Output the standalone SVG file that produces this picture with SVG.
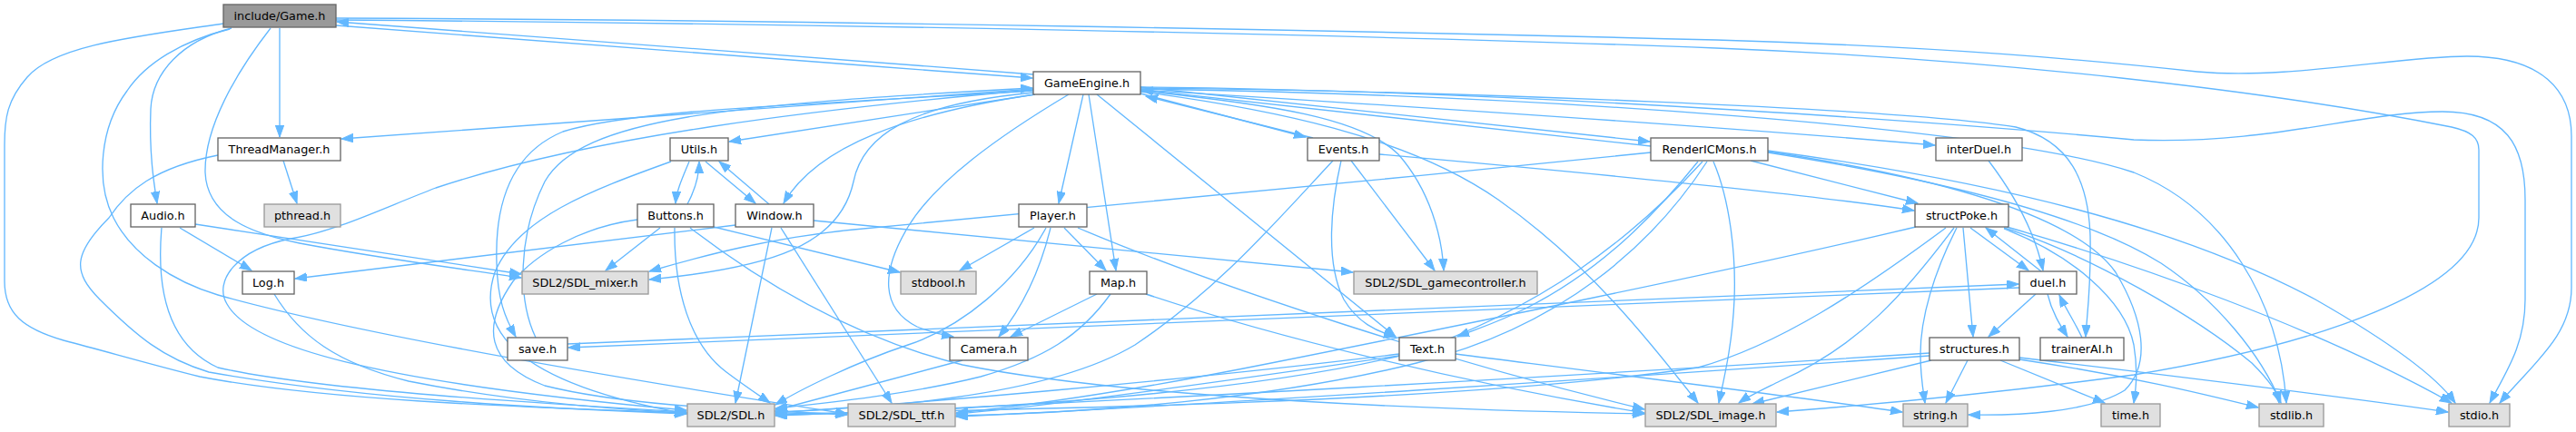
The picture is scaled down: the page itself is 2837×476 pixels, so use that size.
<svg xmlns="http://www.w3.org/2000/svg" width="2837" height="476" viewBox="0 0 2837 476">
<defs>
<style>
.e path{fill:none;stroke:#63b8ff;stroke-width:1.33;marker-end:url(#ah)}
.nd rect{fill:#ffffff;stroke:#666666;stroke-width:1.33}
.ex rect{fill:#e0e0e0;stroke:#999999;stroke-width:1.33}
.rt rect{fill:#999999;stroke:#666666;stroke-width:1.33}
text{font-family:"DejaVu Sans","Liberation Sans",sans-serif;font-size:12.8px;fill:#000000;text-anchor:middle}
</style>
<marker id="ah" markerWidth="14" markerHeight="10" refX="13" refY="4.7" orient="auto" markerUnits="userSpaceOnUse">
<path d="M0,0 L13,4.7 L0,9.4 z" fill="#63b8ff" stroke="#63b8ff" stroke-width="1"/>
</marker>
</defs>
<rect width="2837" height="476" fill="#ffffff"/>
<g id="connectors" class="e">
<path d="M370,28 C620,47 880,67 1137,86"/>
<path d="M1138,82 C880,62 620,42 371,24"/>
<path d="M308,31 L308,151"/>
<path d="M255,31 C200,45 168,80 166,120 C164,170 170,205 173,224"/>
<path d="M246,26 C150,40 60,50 30,85 C8,110 5,130 5,160 L5,310 C5,345 25,362 70,375 C120,388 160,400 220,415 C350,440 550,448 756,455"/>
<path d="M253,32 C200,45 160,70 140,100 C110,140 105,200 125,240 C145,280 190,310 240,325 C400,370 700,420 933,456"/>
<path d="M298,31 C260,80 225,140 226,190 C228,240 280,258 330,268 C420,285 500,295 574,306"/>
<path d="M370,20 C900,22 1500,34 1890,44 C2150,52 2300,66 2420,79 C2520,88 2640,62 2717,62 C2800,62 2832,100 2832,150 L2832,317 C2832,370 2790,400 2753,444"/>
<path d="M370,22 C900,26 1500,38 1890,53 C2200,65 2500,100 2700,140 C2722,145 2730,152 2730,165 L2730,240 C2730,320 2550,380 2350,413 C2200,433 2050,447 1957,454"/>
<path d="M1138,98 L376,153"/>
<path d="M1140,104 L803,156"/>
<path d="M1140,104 C1000,125 900,160 863,224"/>
<path d="M1138,100 C900,115 700,120 620,145 C560,170 545,230 547,290 C548,330 556,350 568,371"/>
<path d="M590,372 C570,330 570,260 600,200 C640,130 800,115 1137,97"/>
<path d="M1138,102 C1000,115 950,150 940,200 C925,270 850,295 715,308"/>
<path d="M1138,99 C900,120 650,150 480,207 C420,230 370,255 320,263 C260,275 235,310 250,335 C275,380 400,420 756,452"/>
<path d="M739,178 C650,210 570,240 545,300 C525,360 560,420 756,456"/>
<path d="M1193,104 L1166,224"/>
<path d="M1199,104 L1229,298"/>
<path d="M1177,104 C1100,150 1030,200 1000,250 C970,300 970,340 1010,360 C1025,366 1038,369 1050,371"/>
<path d="M1208,104 L1537,371"/>
<path d="M1256,103 L1438,151"/>
<path d="M1446,152 L1262,106"/>
<path d="M1256,96 L1817,156"/>
<path d="M1818,161 L1257,99"/>
<path d="M1256,100 C1400,115 1500,130 1540,170 C1575,210 1588,260 1590,298"/>
<path d="M1256,101 C1400,120 1550,150 1650,220 C1750,290 1820,380 1870,444"/>
<path d="M1256,99 C1600,120 1900,140 2131,160"/>
<path d="M1256,97 C1600,100 2100,120 2220,140 C2280,155 2300,200 2302,260 C2303,320 2298,350 2297,371"/>
<path d="M1256,98 C1700,105 2200,140 2350,190 C2450,230 2510,330 2518,444"/>
<path d="M1256,96 C1700,100 2200,140 2350,154 C2500,160 2600,123 2690,123 C2760,123 2781,160 2781,220 L2781,330 C2781,380 2760,410 2742,444"/>
<path d="M1060,397 L854,452"/>
<path d="M1152,251 C1120,310 1060,360 1000,380 C940,400 880,430 854,446"/>
<path d="M1223,324 C1190,370 1150,395 1080,415 C1000,435 900,445 854,450"/>
<path d="M1468,177 C1400,250 1340,320 1250,380 C1150,440 950,450 854,454"/>
<path d="M1541,390 C1300,420 1000,445 854,455"/>
<path d="M1541,392 C1350,420 1150,448 1053,456"/>
<path d="M1875,178 C1800,260 1700,340 1550,390 C1350,440 1000,455 854,457"/>
<path d="M1880,178 C1820,270 1720,360 1560,400 C1400,440 1200,455 1053,458"/>
<path d="M1870,178 C1820,240 1760,300 1680,340 C1650,355 1625,363 1605,371"/>
<path d="M1887,178 C1905,220 1912,280 1910,330 C1908,380 1898,420 1893,444"/>
<path d="M1928,177 L2112,224"/>
<path d="M1818,168 C1500,200 1100,240 940,253 C850,262 780,280 715,299"/>
<path d="M1947,167 C2100,190 2280,230 2330,300 C2360,350 2370,400 2340,430 C2300,455 2220,458 2168,457"/>
<path d="M1947,166 C2200,200 2400,250 2550,330 C2620,370 2680,410 2704,444"/>
<path d="M1947,168 C2150,200 2300,240 2380,290 C2440,330 2490,390 2512,444"/>
<path d="M2170,251 L2234,298"/>
<path d="M2248,299 L2187,251"/>
<path d="M2162,251 L2173,371"/>
<path d="M2155,251 C2130,300 2115,350 2115,390 C2115,415 2118,430 2120,444"/>
<path d="M2152,251 C2100,320 2050,380 1960,420 C1940,430 1925,437 1915,444"/>
<path d="M2143,251 C2050,320 1960,380 1870,405 C1600,445 1100,452 854,456"/>
<path d="M2110,250 C1900,300 1600,360 1400,400 C1250,430 1150,445 1053,455"/>
<path d="M2207,252 C2280,280 2340,330 2350,380 C2355,410 2352,430 2350,444"/>
<path d="M2207,251 C2300,280 2420,350 2480,400 C2500,420 2508,432 2510,444"/>
<path d="M2210,250 C2350,290 2550,360 2700,444"/>
<path d="M1519,170 C1800,195 2000,215 2108,232"/>
<path d="M2242,324 L2190,371"/>
<path d="M2255,324 C2260,345 2270,360 2277,371"/>
<path d="M2293,372 C2285,355 2275,340 2268,325"/>
<path d="M2224,317 L626,383"/>
<path d="M625,379 L2223,313"/>
<path d="M2190,177 C2215,210 2240,250 2250,298"/>
<path d="M2167,397 L2143,444"/>
<path d="M2203,397 L2318,444"/>
<path d="M2127,397 L1930,445"/>
<path d="M2125,389 C1800,410 1200,445 854,458"/>
<path d="M2125,392 C1800,415 1300,448 1053,459"/>
<path d="M2224,394 C2400,415 2600,440 2696,454"/>
<path d="M2224,396 C2350,415 2430,435 2487,449"/>
<path d="M1603,390 C1800,415 2000,440 2095,454"/>
<path d="M1488,177 L1580,298"/>
<path d="M1477,177 C1465,230 1460,290 1480,330 C1495,355 1515,365 1537,371"/>
<path d="M1139,251 L1057,298"/>
<path d="M1157,251 C1145,300 1125,340 1100,371"/>
<path d="M1172,251 L1218,298"/>
<path d="M1187,251 C1350,320 1600,400 1811,451"/>
<path d="M1262,324 C1400,370 1600,420 1811,455"/>
<path d="M1208,324 L1113,371"/>
<path d="M757,225 C765,210 770,195 770,178"/>
<path d="M759,178 C752,195 745,210 744,224"/>
<path d="M777,178 L832,224"/>
<path d="M847,225 L792,178"/>
<path d="M727,251 L667,298"/>
<path d="M786,250 L991,300"/>
<path d="M743,251 C742,320 760,380 800,410 C820,425 835,435 848,444"/>
<path d="M760,251 C850,320 950,375 1060,402 C1250,440 1600,452 1811,456"/>
<path d="M702,242 C640,250 590,280 565,310 C530,360 535,400 600,425 C700,450 850,452 933,457"/>
<path d="M810,248 L325,307"/>
<path d="M850,251 L810,444"/>
<path d="M860,251 L982,444"/>
<path d="M896,243 L1490,300"/>
<path d="M215,247 L574,302"/>
<path d="M198,251 L277,298"/>
<path d="M178,251 C172,320 185,380 240,405 C350,430 600,445 756,454"/>
<path d="M302,324 C330,370 370,400 450,420 C550,440 650,450 756,455"/>
<path d="M312,177 L327,224"/>
<path d="M240,171 C170,185 140,210 120,240 C80,280 80,300 110,330 C150,370 180,395 230,410 C400,440 600,450 756,456"/>
</g>
<g id="node-game" class="rt"><rect x="246" y="5" width="124" height="25"/><text x="308" y="22">include/Game.h</text></g>
<g id="node-gameengine" class="nd"><rect x="1138" y="79" width="118" height="25"/><text x="1197" y="96">GameEngine.h</text></g>
<g id="node-threadmanager" class="nd"><rect x="240" y="152" width="135" height="25"/><text x="307.5" y="169">ThreadManager.h</text></g>
<g id="node-utils" class="nd"><rect x="738" y="152" width="64" height="25"/><text x="770" y="169">Utils.h</text></g>
<g id="node-events" class="nd"><rect x="1440" y="152" width="79" height="25"/><text x="1479.5" y="169">Events.h</text></g>
<g id="node-rendericmons" class="nd"><rect x="1818" y="152" width="129" height="25"/><text x="1882.5" y="169">RenderICMons.h</text></g>
<g id="node-interduel" class="nd"><rect x="2132" y="152" width="95" height="25"/><text x="2179.5" y="169">interDuel.h</text></g>
<g id="node-audio" class="nd"><rect x="144" y="225" width="71" height="25"/><text x="179.5" y="242">Audio.h</text></g>
<g id="node-pthread" class="ex"><rect x="291" y="225" width="84" height="25"/><text x="333" y="242">pthread.h</text></g>
<g id="node-buttons" class="nd"><rect x="702" y="225" width="84" height="25"/><text x="744" y="242">Buttons.h</text></g>
<g id="node-window" class="nd"><rect x="810" y="225" width="86" height="25"/><text x="853" y="242">Window.h</text></g>
<g id="node-player" class="nd"><rect x="1122" y="225" width="75" height="25"/><text x="1159.5" y="242">Player.h</text></g>
<g id="node-structpoke" class="nd"><rect x="2109" y="225" width="103" height="25"/><text x="2160.5" y="242">structPoke.h</text></g>
<g id="node-log" class="nd"><rect x="267" y="299" width="57" height="25"/><text x="295.5" y="316">Log.h</text></g>
<g id="node-sdlmixer" class="ex"><rect x="575" y="299" width="139" height="25"/><text x="644.5" y="316">SDL2/SDL_mixer.h</text></g>
<g id="node-stdbool" class="ex"><rect x="992" y="299" width="83" height="25"/><text x="1033.5" y="316">stdbool.h</text></g>
<g id="node-map" class="nd"><rect x="1200" y="299" width="63" height="25"/><text x="1231.5" y="316">Map.h</text></g>
<g id="node-sdlgamecontroller" class="ex"><rect x="1491" y="299" width="202" height="25"/><text x="1592" y="316">SDL2/SDL_gamecontroller.h</text></g>
<g id="node-duel" class="nd"><rect x="2224" y="299" width="63" height="25"/><text x="2255.5" y="316">duel.h</text></g>
<g id="node-save" class="nd"><rect x="559" y="372" width="66" height="25"/><text x="592" y="389">save.h</text></g>
<g id="node-camera" class="nd"><rect x="1046" y="372" width="86" height="25"/><text x="1089" y="389">Camera.h</text></g>
<g id="node-text" class="nd"><rect x="1541" y="372" width="62" height="25"/><text x="1572" y="389">Text.h</text></g>
<g id="node-structures" class="nd"><rect x="2125" y="372" width="99" height="25"/><text x="2174.5" y="389">structures.h</text></g>
<g id="node-trainerai" class="nd"><rect x="2247" y="372" width="92" height="25"/><text x="2293" y="389">trainerAI.h</text></g>
<g id="node-sdl" class="ex"><rect x="757" y="445" width="96" height="25"/><text x="805" y="462">SDL2/SDL.h</text></g>
<g id="node-sdlttf" class="ex"><rect x="934" y="445" width="118" height="25"/><text x="993" y="462">SDL2/SDL_ttf.h</text></g>
<g id="node-sdlimage" class="ex"><rect x="1812" y="445" width="144" height="25"/><text x="1884" y="462">SDL2/SDL_image.h</text></g>
<g id="node-string" class="ex"><rect x="2096" y="445" width="71" height="25"/><text x="2131.5" y="462">string.h</text></g>
<g id="node-time" class="ex"><rect x="2314" y="445" width="65" height="25"/><text x="2346.5" y="462">time.h</text></g>
<g id="node-stdlib" class="ex"><rect x="2488" y="445" width="71" height="25"/><text x="2523.5" y="462">stdlib.h</text></g>
<g id="node-stdio" class="ex"><rect x="2697" y="445" width="67" height="25"/><text x="2730.5" y="462">stdio.h</text></g>
</svg>
